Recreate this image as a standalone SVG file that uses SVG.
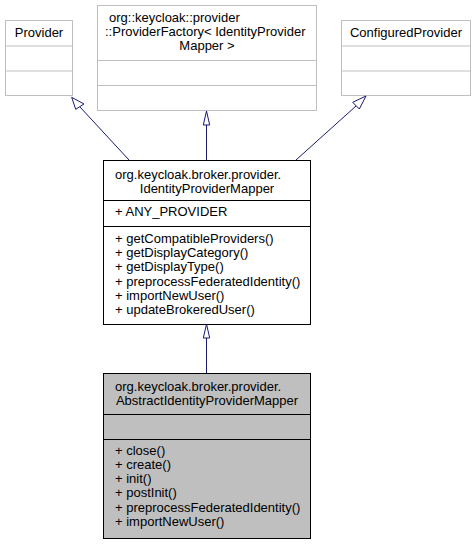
<svg xmlns="http://www.w3.org/2000/svg" width="476" height="544" viewBox="0 0 476 544">
<style>
text{font-family:"Liberation Sans",Arial,sans-serif;font-size:13px;fill:#000}
.g{fill:#fff;stroke:#bfbfbf;stroke-width:1}
.b{fill:#fff;stroke:#000;stroke-width:1}
.a{fill:#bfbfbf;stroke:#000;stroke-width:1}
.m{text-anchor:middle}
.e{fill:none;stroke:#191970;stroke-width:1}
.h{fill:#fff;stroke:#191970;stroke-width:1}
</style>
<rect width="476" height="544" fill="#fff"/>
<g id="node-provider">
<rect class="g" x="5.5" y="20.5" width="67" height="75"/>
<line class="g" x1="5.5" y1="46" x2="72.5" y2="46"/>
<line class="g" x1="5.5" y1="71" x2="72.5" y2="71"/>
<text class="m" x="39" y="37">Provider</text>
</g>
<g id="node-providerfactory">
<rect class="g" x="97.5" y="5.5" width="219" height="105"/>
<line class="g" x1="97.5" y1="60.5" x2="316.5" y2="60.5"/>
<line class="g" x1="97.5" y1="85.5" x2="316.5" y2="85.5"/>
<text x="109" y="22">org::keycloak::provider</text>
<text x="105" y="36">::ProviderFactory&lt; IdentityProvider</text>
<text class="m" x="207" y="50">Mapper &gt;</text>
</g>
<g id="node-configuredprovider">
<rect class="g" x="341.5" y="20.5" width="129" height="75"/>
<line class="g" x1="341.5" y1="46" x2="470.5" y2="46"/>
<line class="g" x1="341.5" y1="71" x2="470.5" y2="71"/>
<text class="m" x="406" y="37">ConfiguredProvider</text>
</g>
<g id="node-identityprovidermapper">
<rect class="b" x="103.5" y="160.5" width="207" height="164"/>
<line class="b" x1="103.5" y1="200.5" x2="310.5" y2="200.5"/>
<line class="b" x1="103.5" y1="226.5" x2="310.5" y2="226.5"/>
<text x="115" y="179">org.keycloak.broker.provider.</text>
<text class="m" x="207" y="193">IdentityProviderMapper</text>
<text x="115" y="216">+ ANY_PROVIDER</text>
<text x="115" y="243">+ getCompatibleProviders()</text>
<text x="115" y="257">+ getDisplayCategory()</text>
<text x="115" y="271">+ getDisplayType()</text>
<text x="115" y="286">+ preprocessFederatedIdentity()</text>
<text x="115" y="300">+ importNewUser()</text>
<text x="115" y="314">+ updateBrokeredUser()</text>
</g>
<g id="node-abstractidentityprovidermapper">
<rect class="a" x="103.5" y="373.5" width="207" height="165"/>
<line class="a" x1="103.5" y1="414.5" x2="310.5" y2="414.5"/>
<line class="a" x1="103.5" y1="439.5" x2="310.5" y2="439.5"/>
<text x="115" y="391">org.keycloak.broker.provider.</text>
<text class="m" x="207" y="405">AbstractIdentityProviderMapper</text>
<text x="115" y="455">+ close()</text>
<text x="115" y="469">+ create()</text>
<text x="115" y="483">+ init()</text>
<text x="115" y="497">+ postInit()</text>
<text x="115" y="512">+ preprocessFederatedIdentity()</text>
<text x="115" y="526">+ importNewUser()</text>
</g>
<g id="connectors">
<line class="e" x1="129" y1="160" x2="80" y2="107"/>
<polygon class="h" points="71.7,97.3 75.7,109.3 84,104"/>
<line class="e" x1="206.5" y1="160" x2="206.5" y2="125"/>
<polygon class="h" points="206.5,111 203.3,125 209.7,125"/>
<line class="e" x1="296" y1="160" x2="356" y2="106"/>
<polygon class="h" points="366,96 352.7,102.3 359.3,109"/>
<line class="e" x1="206.5" y1="373" x2="206.5" y2="338"/>
<polygon class="h" points="206.5,324 203.3,338 209.7,338"/>
</g>
</svg>
